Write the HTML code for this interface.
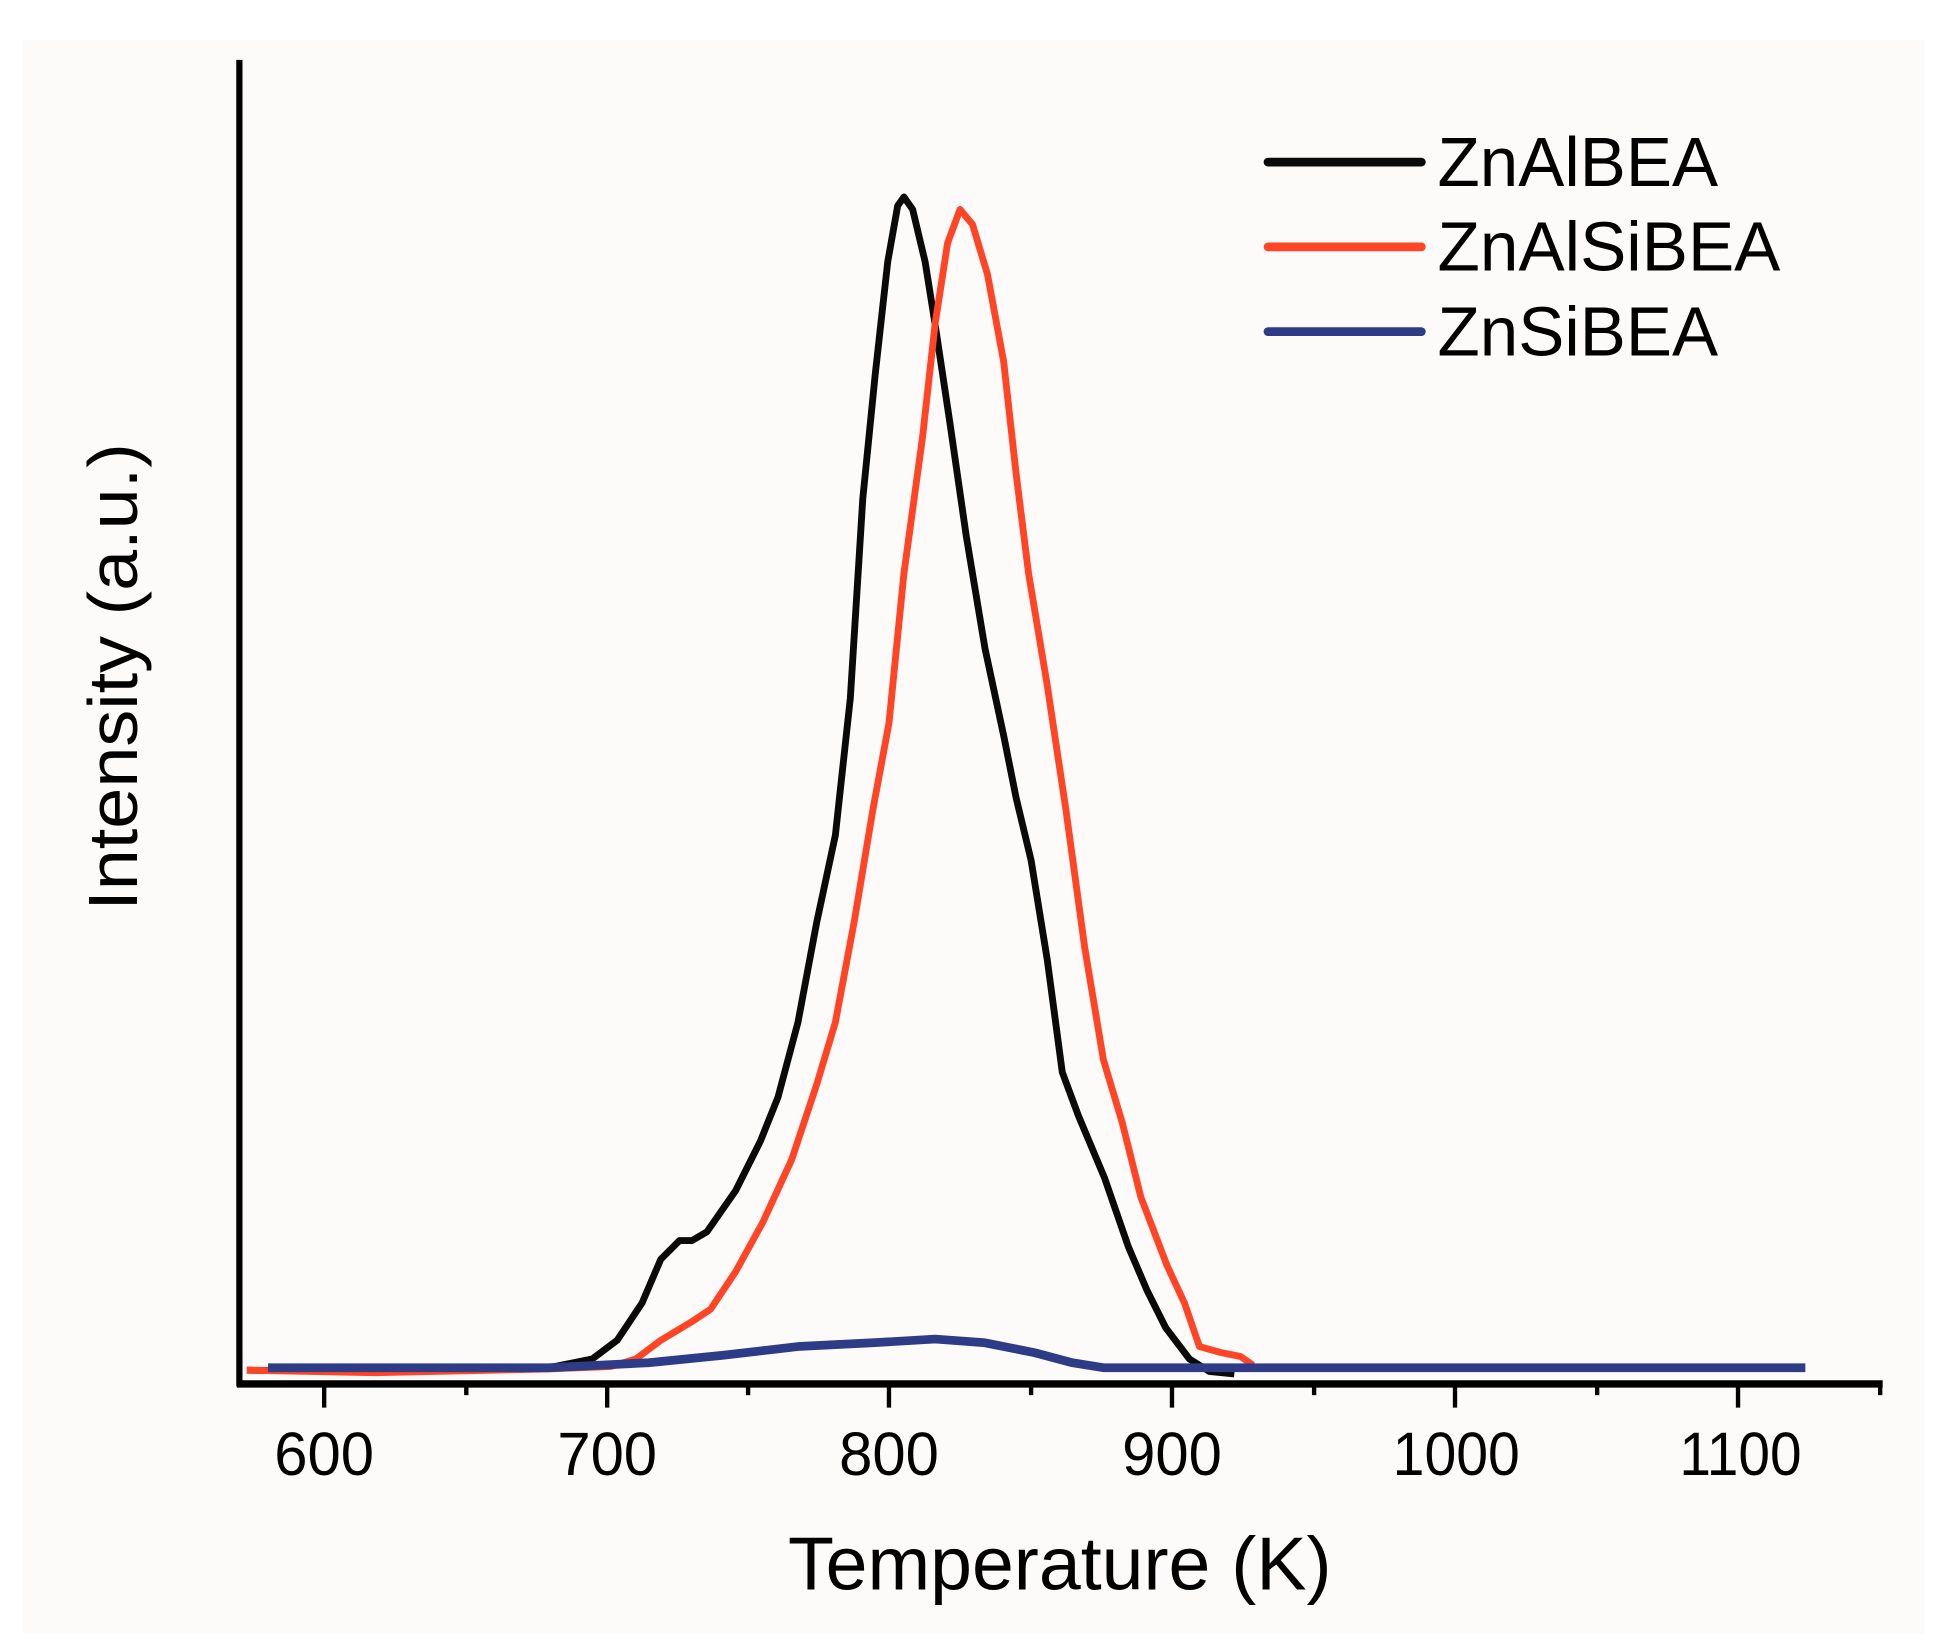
<!DOCTYPE html>
<html><head><meta charset="utf-8"><style>
html,body{margin:0;padding:0;background:#fff;}
svg{display:block;}
text{font-family:"Liberation Sans",sans-serif;fill:#000;}
</style></head><body>
<svg width="1945" height="1647" viewBox="0 0 1560 1321" preserveAspectRatio="none" xmlns="http://www.w3.org/2000/svg">
<rect x="0" y="0" width="1560" height="1321" fill="#fff"/>
<rect x="18" y="32" width="1525" height="1278" fill="#fdfbfa"/>
<path d="M198,1099 L300,1100 L440,1097 L475,1090 L495,1075 L515,1045 L530,1010 L545,995 L555,995 L567,988 L590,955 L610,915 L624,880 L640,820 L655,740 L670,670 L682,560 L692,400 L702,300 L712,210 L720,165 L725,158 L732,168 L742,210 L750,260 L762,340 L775,430 L790,520 L805,590 L815,640 L827,690 L840,770 L852,860 L865,895 L886,945 L905,1000 L920,1035 L935,1065 L954,1090 L970,1100 L990,1102" fill="none" stroke="#0a0a0a" stroke-width="5.5" stroke-linejoin="round"/>
<path d="M198,1099 L300,1101 L440,1098 L490,1096 L510,1090 L530,1075 L555,1060 L570,1050 L590,1020 L612,980 L635,930 L655,870 L670,820 L685,740 L700,650 L713,580 L725,460 L740,350 L750,260 L760,195 L770,168 L780,180 L792,220 L805,290 L815,380 L825,460 L840,550 L855,650 L870,760 L885,850 L900,900 L915,960 L936,1015 L950,1045 L962,1080 L980,1085 L995,1088 L1005,1095" fill="none" stroke="#ff4525" stroke-width="5.5" stroke-linejoin="round"/>
<path d="M215,1097 L440,1097 L520,1093 L580,1087 L640,1080 L700,1077 L750,1074 L790,1077 L830,1085 L860,1093 L885,1097 L1448,1097" fill="none" stroke="#2e3c88" stroke-width="7" stroke-linejoin="round"/>
<line x1="192" y1="48" x2="192" y2="1112" stroke="#000" stroke-width="5"/>
<line x1="190" y1="1110" x2="1510" y2="1110" stroke="#000" stroke-width="6"/>
<g stroke="#000" stroke-width="3.5">
<line x1="260" y1="1110" x2="260" y2="1129"/><line x1="487" y1="1110" x2="487" y2="1129"/>
<line x1="713" y1="1110" x2="713" y2="1129"/><line x1="940" y1="1110" x2="940" y2="1129"/>
<line x1="1167" y1="1110" x2="1167" y2="1129"/><line x1="1394" y1="1110" x2="1394" y2="1129"/>
<line x1="374" y1="1110" x2="374" y2="1119"/><line x1="600" y1="1110" x2="600" y2="1119"/>
<line x1="827" y1="1110" x2="827" y2="1119"/><line x1="1054" y1="1110" x2="1054" y2="1119"/>
<line x1="1281" y1="1110" x2="1281" y2="1119"/><line x1="1508" y1="1110" x2="1508" y2="1119"/>
</g>
<g font-size="49" text-anchor="middle" lengthAdjust="spacingAndGlyphs">
<text x="260" y="1183" textLength="80" lengthAdjust="spacingAndGlyphs">600</text>
<text x="487" y="1183" textLength="80" lengthAdjust="spacingAndGlyphs">700</text>
<text x="713" y="1183" textLength="80" lengthAdjust="spacingAndGlyphs">800</text>
<text x="940" y="1183" textLength="80" lengthAdjust="spacingAndGlyphs">900</text>
<text x="1168" y="1183" textLength="102" lengthAdjust="spacingAndGlyphs">1000</text>
<text x="1396" y="1183" textLength="98" lengthAdjust="spacingAndGlyphs">1100</text>
</g>
<text x="850" y="1275" font-size="60" text-anchor="middle" textLength="436" lengthAdjust="spacingAndGlyphs">Temperature (K)</text>
<text transform="translate(110,543) rotate(-90)" font-size="56" text-anchor="middle" textLength="375" lengthAdjust="spacingAndGlyphs">Intensity (a.u.)</text>
<line x1="1017" y1="130" x2="1140" y2="130" stroke="#0a0a0a" stroke-width="7" stroke-linecap="round"/>
<line x1="1017" y1="198" x2="1140" y2="198" stroke="#ff4525" stroke-width="7" stroke-linecap="round"/>
<line x1="1017" y1="266" x2="1140" y2="266" stroke="#2e3c88" stroke-width="7" stroke-linecap="round"/>
<g font-size="56">
<text x="1153" y="149" textLength="225" lengthAdjust="spacingAndGlyphs">ZnAlBEA</text>
<text x="1153" y="217" textLength="275" lengthAdjust="spacingAndGlyphs">ZnAlSiBEA</text>
<text x="1153" y="285" textLength="225" lengthAdjust="spacingAndGlyphs">ZnSiBEA</text>
</g>
</svg>
</body></html>
